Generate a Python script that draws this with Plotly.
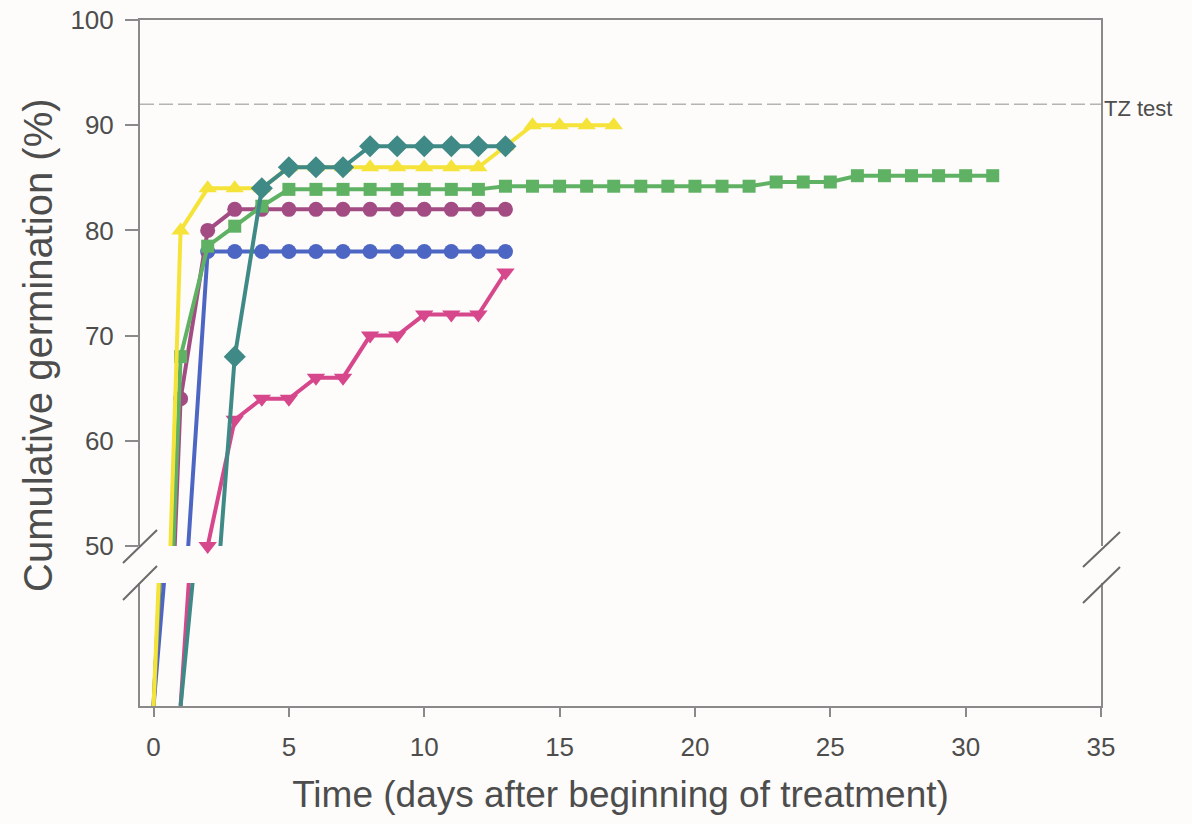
import plotly.graph_objects as go
from plotly.subplots import make_subplots

# ---------------- data ----------------
yellow_days = list(range(0, 18))
yellow_vals = [0, 80, 84, 84, 84, 86, 86, 86, 86, 86, 86, 86, 86, 88, 90, 90, 90, 90]

teal_days = [1, 3, 4, 5, 6, 7, 8, 9, 10, 11, 12, 13]
teal_vals = [0, 68, 84, 86, 86, 86, 88, 88, 88, 88, 88, 88]

green_days = list(range(0, 32))
green_vals = [0, 68, 78.5, 80.4, 82.3, 83.9, 83.9, 83.9, 83.9, 83.9, 83.9, 83.9, 83.9,
              84.2, 84.2, 84.2, 84.2, 84.2, 84.2, 84.2, 84.2, 84.2, 84.2,
              84.6, 84.6, 84.6, 85.2, 85.2, 85.2, 85.2, 85.2, 85.2]

purple_days = list(range(0, 14))
purple_vals = [0, 64, 80, 82, 82, 82, 82, 82, 82, 82, 82, 82, 82, 82]

blue_days = [0] + list(range(2, 14))
blue_vals = [0, 78, 78, 78, 78, 78, 78, 78, 78, 78, 78, 78, 78]

magenta_days = list(range(1, 14))
magenta_vals = [0, 50, 62, 64, 64, 66, 66, 70, 70, 72, 72, 72, 76]

tz_value = 92
x_ticks = [0, 5, 10, 15, 20, 25, 30, 35]
y_ticks = [50, 60, 70, 80, 90, 100]

# ---------------- styling ----------------
OFFX, OFFY = 0, 0          # body margin removed below
W, H = 1192, 824
ML, MR, MT, MB = 140, 91, 20, 118
PW, PH = W - ML - MR, H - MT - MB
FONT = "Liberation Sans, Arial, sans-serif"
TXT = "#4d4d4d"
AX = "#8a8a8a"

def px2paper(px, py):
    # px, py are screen coordinates
    return (px - OFFX - ML) / PW, (OFFY + H - MB - py) / PH

upper_bottom = px2paper(0, 546)[1]
lower_top = px2paper(0, 583)[1]

fig = make_subplots(rows=2, cols=1, shared_xaxes=True, vertical_spacing=0.0)

series = [
    ("blue", blue_days, blue_vals, "#4d66c3", "circle", 15),
    ("purple", purple_days, purple_vals, "#a34c84", "circle", 15),
    ("green", green_days, green_vals, "#5fb164", "square", 13),
    ("magenta", magenta_days, magenta_vals, "#d6478c", "triangle-down", 16),
    ("yellow", yellow_days, yellow_vals, "#f5e33a", "triangle-up", 16),
    ("teal", teal_days, teal_vals, "#3f8a86", "diamond", 17),
]

for name, xs, ys, col, sym, sz in series:
    fig.add_trace(go.Scatter(x=xs, y=ys, mode="lines+markers", name=name,
                             line=dict(color=col, width=4),
                             marker=dict(symbol=sym, size=sz, color=col),
                             cliponaxis=False, showlegend=False), row=1, col=1)
    fig.add_trace(go.Scatter(x=xs, y=ys, mode="lines", name=name,
                             line=dict(color=col, width=4),
                             showlegend=False), row=2, col=1)

# TZ test line
fig.add_shape(type="line", xref="x domain", yref="y", x0=0, x1=1, y0=tz_value, y1=tz_value,
              line=dict(color="#b4b4b4", width=1.5, dash="14px,5px"))
fig.add_annotation(text="TZ test", xref="x domain", yref="y", x=1, y=tz_value,
                   xanchor="left", yanchor="middle", showarrow=False, xshift=1, yshift=-4,
                   font=dict(family=FONT, size=22, color=TXT))

# axis break marks
for (x0, y0, x1, y1) in [(123, 563, 157, 530), (123, 600, 157, 566),
                         (1083, 567, 1120, 532), (1083, 603, 1120, 567)]:
    a0, b0 = px2paper(x0, y0)
    a1, b1 = px2paper(x1, y1)
    fig.add_shape(type="line", xref="paper", yref="paper", x0=a0, y0=b0, x1=a1, y1=b1,
                  line=dict(color="#6a6a6a", width=2))

# y title
tx, ty = px2paper(38, 345)
fig.add_annotation(text="Cumulative germination (%)", xref="paper", yref="paper",
                   x=tx, y=ty, textangle=-90, showarrow=False,
                   xanchor="center", yanchor="middle",
                   font=dict(family=FONT, size=40, color=TXT))

fig.update_xaxes(range=[-0.5, 35], showgrid=False, zeroline=False, automargin=False)
fig.update_yaxes(automargin=False)
fig.update_layout(
    width=W, height=H,
    margin=dict(l=ML, r=MR, t=MT, b=MB, autoexpand=False),
    paper_bgcolor="#fdfcfa", plot_bgcolor="#fdfcfa",
    font=dict(family=FONT, color=TXT),
    hovermode=False,
    xaxis=dict(side="top", showline=True, linecolor=AX, linewidth=2, mirror=False,
               showticklabels=False, ticks=""),
    xaxis2=dict(showline=True, linecolor=AX, linewidth=2, ticks="outside", ticklen=9,
                tickwidth=2, tickcolor=AX, tickvals=x_ticks, ticklabelstandoff=8,
                tickfont=dict(family=FONT, size=26, color=TXT),
                title=dict(text="Time (days after beginning of treatment)",
                           font=dict(family=FONT, size=37, color=TXT), standoff=20)),
    yaxis=dict(domain=[upper_bottom, 1], range=[50, 100], showline=True, mirror=True,
               linecolor=AX, linewidth=2, ticks="outside", ticklen=13, tickwidth=2,
               tickcolor=AX, tickvals=y_ticks, showgrid=False, zeroline=False,
               ticklabelstandoff=6, ticklabeloverflow="allow",
               tickfont=dict(family=FONT, size=26, color=TXT)),
    yaxis2=dict(domain=[0, lower_top], range=[0, 15], showline=True, mirror=True,
                linecolor=AX, linewidth=2, ticks="", showticklabels=False,
                showgrid=False, zeroline=False),
)

fig.write_html("out.html",
               config={"displayModeBar": False},
               post_script="document.body.style.margin='0px';"
                           "document.body.style.overflow='hidden';")
